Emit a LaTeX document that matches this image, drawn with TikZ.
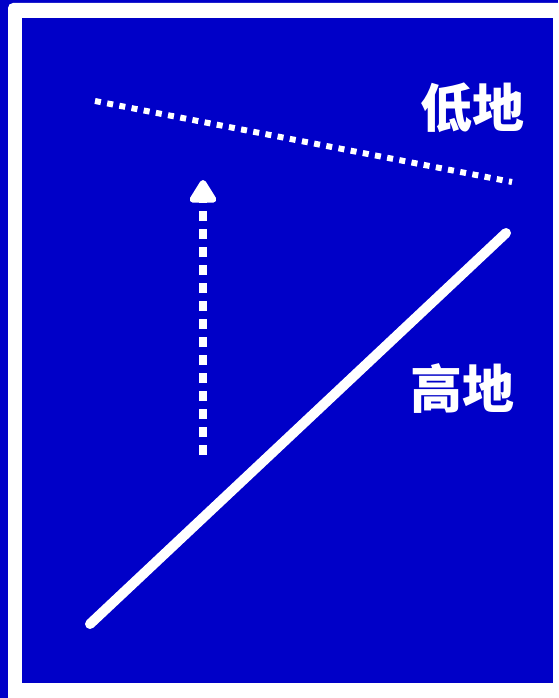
\documentclass[tikz,border=0pt]{standalone}
\usepackage{fontspec}
\newfontfamily\cjk{Noto Sans CJK SC}
\definecolor{panelblue}{RGB}{0,0,200}
\usetikzlibrary{arrows.meta}

\begin{document}
\begin{tikzpicture}[x=1pt, y=-1pt,
  zonelabel/.style={font=\cjk\bfseries\fontsize{52}{52}\selectfont,
                    text=white, inner sep=0pt},
  boundary/.style={white, line width=6pt, dash pattern=on 6pt off 6.4pt},
  slope/.style={white, line width=10pt, line cap=round},
  flow/.style={white, line width=8pt, dash pattern=on 10pt off 8pt,
               -{Triangle[width=30pt, length=26pt, round]}},
]
\useasboundingbox (0,0) rectangle (558,698);
% frame
\fill[panelblue] (0,0) rectangle (558,698);
\fill[white, rounded corners=5pt] (8,3) rectangle (575,715);
\fill[panelblue] (22,18) rectangle (553,683);

% labels
\node[zonelabel] (low) at (472,108) {低地};
\node[zonelabel] (high) at (462,389) {高地};

% lines
\coordinate (b1) at (95,101);
\coordinate (b2) at (512,182);
\coordinate (s1) at (90,624);
\coordinate (s2) at (506,233);
\coordinate (f1) at (203,455);
\coordinate (f2) at (203,180);

\draw[boundary] (b1) -- (b2);
\draw[slope] (s1) -- (s2);
\draw[flow] (f1) -- (f2);
\end{tikzpicture}
\end{document}
